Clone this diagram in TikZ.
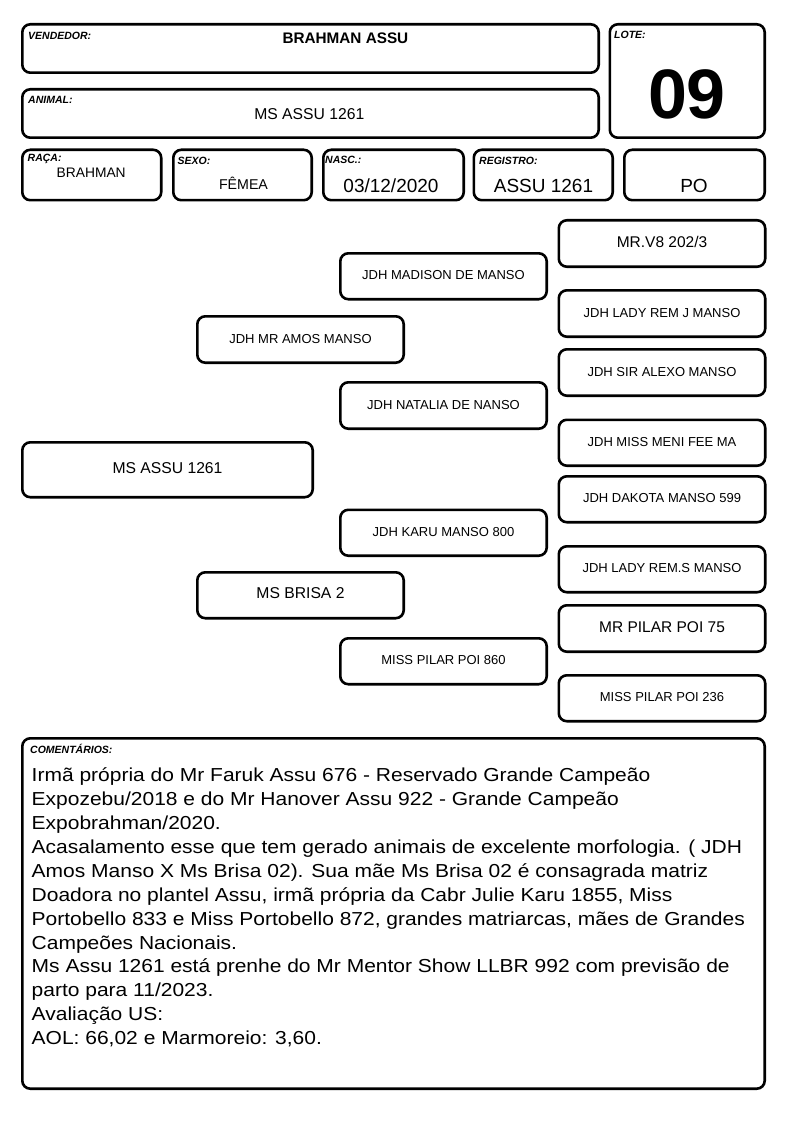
\documentclass[tikz,border=0pt]{standalone}
\usepackage{fontspec}
\setmainfont{Liberation Sans}
\newfontfamily\cmtfont[FakeStretch=1.117]{Liberation Sans}
\newcommand\fs[1]{\fontsize{#1}{#1}\selectfont}
\newcommand\mkbox[7]{%
  \node[box, minimum width={(#4)-(#2)-2.6}, minimum height={(#5)-(#3)-2.6}, font={#6}]
    (#1) at ({((#2)+(#4))/2},{((#3)+(#5))/2}) {#7};}
\tikzset{
  box/.style={draw=black, rounded corners=8pt, line width=2.6pt, inner sep=0pt,
    text height=0.72em, text depth=0pt, align=center},
  lbl/.style={anchor=base west, inner sep=0pt, font={\fs{10.5}\bfseries\itshape}},
  val/.style={anchor=base, inner sep=0pt},
  cmt/.style={anchor=base west, inner sep=0pt, font={\cmtfont\fs{18.8}}},
}
\begin{document}
\begin{tikzpicture}[x=1pt,y=-1pt]
\fill[white] (0,0) rectangle (794,1123);
\useasboundingbox (0,0) rectangle (794,1123);
% header boxes
\mkbox{vend}{21}{23}{600}{74}{}{}
\mkbox{anim}{21}{88}{600}{139}{}{}
\mkbox{lote}{608.5}{23}{766}{139}{}{}
\mkbox{raca}{21}{148.5}{162.5}{201.5}{}{}
\mkbox{sexo}{172}{148.5}{313}{201.5}{}{}
\mkbox{nasc}{322}{148.5}{465}{201.5}{}{}
\mkbox{regi}{472.5}{148.5}{614}{201.5}{}{}
\mkbox{po}{623}{148.5}{766}{201.5}{}{}
% labels
\node[lbl] (lvend) at (28,39.5) {VENDEDOR:};
\node[lbl] (lanim) at (28,104) {ANIMAL:};
\node[lbl] (llote) at (614,39) {LOTE:};
\node[lbl] (lraca) at (27.5,162) {RAÇA:};
\node[lbl] (lsexo) at (177.5,165) {SEXO:};
\node[lbl] (lnasc) at (325,164) {NASC.:};
\node[lbl] (lregi) at (479,165) {REGISTRO:};
\node[lbl] (lcomm) at (30,753) {COMENTÁRIOS:};
% values
\node[val, font={\fs{15.3}\bfseries}] (vvend) at (345.4,44) {BRAHMAN ASSU};
\node[val, font={\fs{15.7}}] (vanim) at (309.3,119.7) {MS ASSU 1261};
\node[val, font={\fs{70}\bfseries}] (vlote) at (687,119) {09};
\node[val, font={\fs{13.8}}] (vraca) at (91.2,178) {BRAHMAN};
\node[val, font={\fs{14.2}}] (vsexo) at (243.5,189.7) {FÊMEA};
\node[val, font={\fs{19}}] (vnasc) at (391,192.7) {03/12/2020};
\node[val, font={\fs{19}}] (vregi) at (543.5,192.7) {ASSU 1261};
\node[val, font={\fs{19}}] (vpo) at (694,192.7) {PO};
% pedigree
\mkbox{p0}{21}{441}{314}{498.5}{\fs{15.7}}{MS ASSU 1261}
\mkbox{p1}{196}{315}{405}{364}{\fs{13}}{JDH MR AMOS MANSO}
\mkbox{p2}{196}{571}{405}{619.5}{\fs{15.7}}{MS BRISA 2}
\mkbox{p3}{339}{252}{548}{300.5}{\fs{13}}{JDH MADISON DE MANSO}
\mkbox{p4}{339}{381}{548}{430}{\fs{13}}{JDH NATALIA DE NANSO}
\mkbox{p5}{339}{508.5}{548}{557}{\fs{13}}{JDH KARU MANSO 800}
\mkbox{p6}{339}{637}{548}{685.5}{\fs{13}}{MISS PILAR POI 860}
\mkbox{p7}{557.5}{219}{766.5}{268}{\fs{15.5}}{MR.V8 202/3}
\mkbox{p8}{557.5}{289}{766.5}{338}{\fs{13}}{JDH LADY REM J MANSO}
\mkbox{p9}{557.5}{348}{766.5}{397}{\fs{13}}{JDH SIR ALEXO MANSO}
\mkbox{p10}{557.5}{418.5}{766.5}{467}{\fs{13}}{JDH MISS MENI FEE MA}
\mkbox{p11}{557.5}{475}{766.5}{523.5}{\fs{13}}{JDH DAKOTA MANSO 599}
\mkbox{p12}{557.5}{545}{766.5}{593.5}{\fs{13}}{JDH LADY REM.S MANSO}
\mkbox{p13}{557.5}{604}{766.5}{653}{\fs{15.5}}{MR PILAR POI 75}
\mkbox{p14}{557.5}{674}{766.5}{722.5}{\fs{13}}{MISS PILAR POI 236}
% comments
\mkbox{comm}{21}{737}{766}{1090}{}{}
\node[cmt] (c1) at (31.5,781.7) {Irmã própria do Mr Faruk Assu 676 - Reservado Grande Campeão};
\node[cmt] (c2) at (31.5,805.6) {Expozebu/2018 e do Mr Hanover Assu 922 - Grande Campeão};
\node[cmt] (c3) at (31.5,829.5) {Expobrahman/2020.};
\node[cmt] (c4) at (31.5,853.4) {Acasalamento esse que tem gerado animais de excelente morfologia. ( JDH};
\node[cmt] (c5) at (31.5,877.3) {Amos Manso X Ms Brisa 02). Sua mãe Ms Brisa 02 é consagrada matriz};
\node[cmt] (c6) at (31.5,901.2) {Doadora no plantel Assu, irmã própria da Cabr Julie Karu 1855, Miss};
\node[cmt] (c7) at (31.5,925.1) {Portobello 833 e Miss Portobello 872, grandes matriarcas, mães de Grandes};
\node[cmt] (c8) at (31.5,949.0) {Campeões Nacionais.};
\node[cmt] (c9) at (31.5,972.9) {Ms Assu 1261 está prenhe do Mr Mentor Show LLBR 992 com previsão de};
\node[cmt] (c10) at (31.5,996.8) {parto para 11/2023.};
\node[cmt] (c11) at (31.5,1020.7) {Avaliação US:};
\node[cmt] (c12) at (31.5,1044.6) {AOL: 66,02 e Marmoreio: 3,60.};
\end{tikzpicture}
\end{document}
